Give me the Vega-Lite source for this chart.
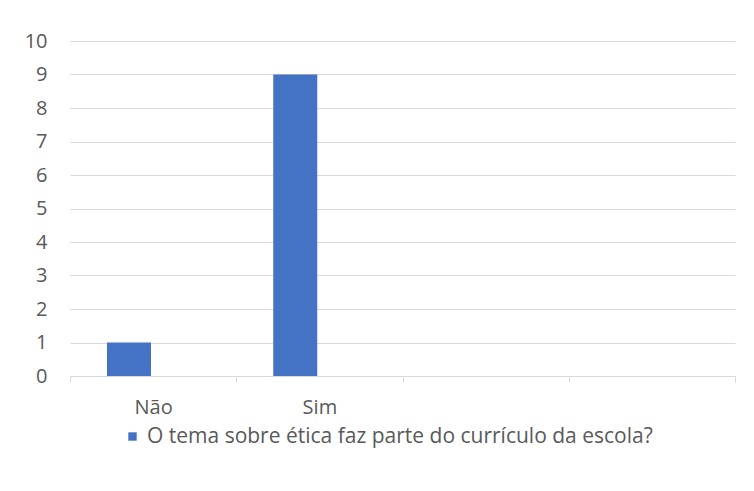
{
  "$schema": "https://vega.github.io/schema/vega-lite/v6.json",
  "width": 665,
  "height": 335,
  "autosize": {"type": "none"},
  "padding": {"left": 70, "top": 41, "right": 19, "bottom": 115},
  "background": "white",
  "config": {
    "view": {"stroke": null},
    "font": "Open Sans",
    "axis": {"labelFont": "Open Sans", "labelColor": "#595959", "labelFontSize": 20},
    "legend": {"labelFont": "Open Sans", "labelColor": "#595959", "labelFontSize": 21}
  },
  "data": {
    "values": [
      {"resposta": "Não", "serie": "O tema sobre ética faz parte do currículo da escola?", "valor": 1},
      {"resposta": "Sim", "serie": "O tema sobre ética faz parte do currículo da escola?", "valor": 9}
    ]
  },
  "mark": {"type": "bar", "color": "#4472C4"},
  "encoding": {
    "x": {
      "field": "resposta",
      "type": "nominal",
      "scale": {"domain": ["Não", "Sim", "c3", "c4"], "paddingInner": 0, "paddingOuter": 0},
      "axis": {
        "title": null,
        "labelAngle": 0,
        "labelExpr": "datum.value == 'c3' || datum.value == 'c4' ? '' : datum.value",
        "domainColor": "#d9d9d9",
        "domainWidth": 1,
        "tickColor": "#d9d9d9",
        "tickSize": 6,
        "tickBand": "extent",
        "labelPadding": 15,
        "grid": false
      }
    },
    "xOffset": {
      "field": "serie",
      "type": "nominal",
      "scale": {"domain": ["O tema sobre ética faz parte do currículo da escola?", "B"], "paddingInner": 0.088, "paddingOuter": 0.767}
    },
    "y": {
      "field": "valor",
      "type": "quantitative",
      "scale": {"domain": [0, 10], "nice": false},
      "axis": {
        "title": null,
        "values": [0, 1, 2, 3, 4, 5, 6, 7, 8, 9, 10],
        "grid": true,
        "gridColor": "#d9d9d9",
        "gridWidth": 1,
        "domain": false,
        "ticks": false,
        "labelPadding": 23
      }
    },
    "color": {
      "field": "serie",
      "type": "nominal",
      "scale": {"domain": ["O tema sobre ética faz parte do currículo da escola?"], "range": ["#4472C4"]},
      "legend": {
        "title": null,
        "orient": "none",
        "legendX": 52,
        "legendY": 385,
        "symbolType": "square",
        "symbolSize": 70,
        "symbolStrokeWidth": 0,
        "labelOffset": 4,
        "labelLimit": 0
      }
    }
  }
}
